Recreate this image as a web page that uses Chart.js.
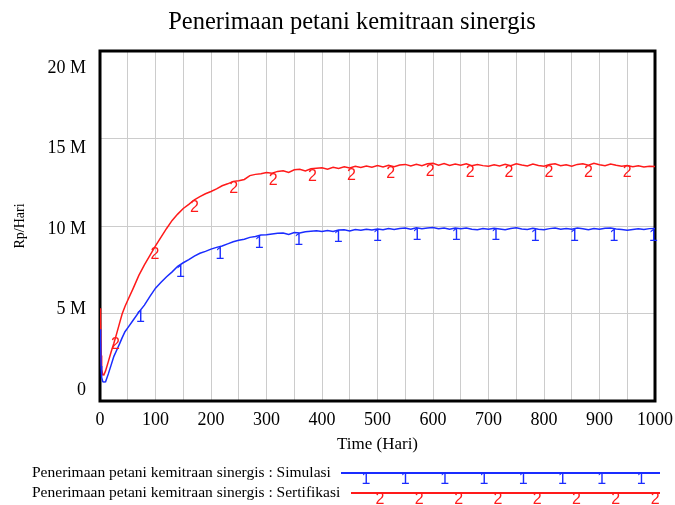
<!DOCTYPE html>
<html>
<head>
<meta charset="utf-8">
<title>Penerimaan petani kemitraan sinergis</title>
<script src="https://cdn.jsdelivr.net/npm/chart.js@4"></script>
<style>
  html, body { margin: 0; padding: 0; background: #fff; }
  canvas { display: block; }
</style>
</head>
<body>
<canvas id="chart" width="675" height="505"></canvas>
<script>
// ---------------------------------------------------------------
// DATA (Rp/Hari, in millions)
// ---------------------------------------------------------------
const days = [0, 1, 2, 3, 5, 7, 10, 15, 20, 25, 30, 35, 40, 45, 50,
  60, 70, 80, 90, 100, 110, 120, 130, 140, 150, 160, 170, 180, 190, 200,
  210, 220, 230, 240, 250, 260, 270, 280, 290, 300, 310, 320, 330, 340, 350,
  360, 370, 380, 390, 400, 410, 420, 430, 440, 450, 460, 470, 480, 490, 500,
  510, 520, 530, 540, 550, 560, 570, 580, 590, 600, 610, 620, 630, 640, 650,
  660, 670, 680, 690, 700, 710, 720, 730, 740, 750, 760, 770, 780, 790, 800,
  810, 820, 830, 840, 850, 860, 870, 880, 890, 900, 910, 920, 930, 940, 950,
  960, 970, 980, 990, 1000];

const simulasi = [4.10, 3.60, 2.00, 1.35, 1.10, 1.08, 1.10, 1.55, 2.05, 2.55, 2.90, 3.25, 3.62, 3.96, 4.18,
  4.63, 5.08, 5.48, 5.98, 6.45, 6.78, 7.10, 7.38, 7.70, 7.90, 8.08, 8.28, 8.44, 8.55, 8.68,
  8.78, 8.86, 8.98, 9.10, 9.18, 9.24, 9.35, 9.40, 9.48, 9.50, 9.54, 9.58, 9.60, 9.52, 9.63,
  9.60, 9.67, 9.70, 9.73, 9.68, 9.74, 9.69, 9.77, 9.79, 9.72, 9.80, 9.76, 9.82, 9.77, 9.83,
  9.78, 9.85, 9.80, 9.86, 9.89, 9.82, 9.90, 9.84, 9.88, 9.91, 9.85, 9.89, 9.82, 9.88, 9.84,
  9.89, 9.81, 9.79, 9.85, 9.81, 9.87, 9.83, 9.78, 9.86, 9.90, 9.83, 9.80, 9.87, 9.82, 9.79,
  9.85, 9.88, 9.81, 9.86, 9.82, 9.88, 9.84, 9.79, 9.86, 9.82, 9.87, 9.89, 9.83, 9.80, 9.76,
  9.80, 9.84, 9.80, 9.85, 9.86];

const sertifikasi = [5.30, 4.70, 2.60, 1.80, 1.50, 1.49, 1.72, 2.25, 2.80, 3.30, 3.85, 4.42, 4.98, 5.40, 5.76,
  6.45, 7.18, 7.78, 8.32, 8.86, 9.37, 9.86, 10.32, 10.68, 11.00, 11.24, 11.50, 11.68, 11.84, 11.97,
  12.12, 12.30, 12.41, 12.55, 12.58, 12.66, 12.88, 12.95, 12.98, 13.05, 13.02, 13.12, 13.16, 13.06, 13.21,
  13.24, 13.15, 13.27, 13.30, 13.33, 13.25, 13.36, 13.29, 13.39, 13.31, 13.41, 13.34, 13.43, 13.36, 13.45,
  13.37, 13.47, 13.39, 13.49, 13.52, 13.43, 13.53, 13.45, 13.56, 13.58, 13.48, 13.57, 13.46, 13.54, 13.47,
  13.56, 13.44, 13.52, 13.45, 13.42, 13.50, 13.43, 13.53, 13.44, 13.55, 13.48, 13.43, 13.54, 13.46, 13.41,
  13.51, 13.55, 13.44, 13.50, 13.42, 13.52, 13.56, 13.47, 13.58, 13.50, 13.45, 13.54, 13.47, 13.42, 13.46,
  13.38, 13.44, 13.37, 13.42, 13.40];

// days where the series number is stamped on the curve
const simulasiMarks = [73, 145, 216, 287, 358, 429, 500, 571, 642, 713, 784, 855, 926, 997];
const sertifikasiMarks = [28, 99, 170, 241, 312, 383, 453, 524, 595, 667, 737, 809, 880, 950];

const yTicks = [0, 5, 10, 15, 20];
const xTicks = [0, 100, 200, 300, 400, 500, 600, 700, 800, 900, 1000];

const SERIF = '"Liberation Serif", "Times New Roman", serif';
const SANS = '"Liberation Sans", Arial, sans-serif';
const BLUE = '#1a2cff';
const RED = '#ff1a1a';

// linear lookup of a series at an arbitrary day
function valueAt(values, day) {
  for (let i = 1; i < days.length; i++) {
    if (day <= days[i]) {
      const f = (day - days[i - 1]) / (days[i] - days[i - 1]);
      return values[i - 1] + f * (values[i] - values[i - 1]);
    }
  }
  return values[values.length - 1];
}

const toPoints = values => days.map((d, i) => ({ x: d, y: values[i] }));

// -------------------------------------------------------------
// PLUGINS
// -------------------------------------------------------------

// y labels sit slightly inside the frame, spread a little tighter than the grid
const yLabels = {
  id: "yLabels",
  afterDraw(chart) {
    const { ctx, chartArea, scales: { y } } = chart;
    ctx.save();
    ctx.font = `18px ${SERIF}`;
    ctx.fillStyle = "#000";
    ctx.textAlign = "right";
    ctx.textBaseline = "middle";
    yTicks.forEach(v => {
      const p = y.getPixelForValue(v);
      const ly = chartArea.top + 17 + (p - chartArea.top) * 0.92;
      ctx.fillText(v === 0 ? "0" : `${v} M`, 86, ly);
    });
    ctx.restore();
  }
};

// heavy black frame round the plot (curves are drawn over it)
const frame = {
  id: "frame",
  beforeDatasetsDraw(chart) {
    const { ctx, chartArea: a } = chart;
    ctx.save();
    ctx.strokeStyle = "#000";
    ctx.lineWidth = 3;
    ctx.strokeRect(a.left, a.top, a.right - a.left, a.bottom - a.top);
    ctx.restore();
  }
};

// series numbers on the curves
const curveMarks = {
  id: "curveMarks",
  afterDatasetsDraw(chart) {
    const { ctx, scales: { x, y } } = chart;
    ctx.save();
    ctx.font = `16px ${SANS}`;
    ctx.textAlign = "center";
    ctx.textBaseline = "alphabetic";
    chart.data.datasets.forEach(ds => {
      ctx.fillStyle = ds.borderColor;
      ds.marks.forEach(d => {
        const px = x.getPixelForValue(d);
        const py = y.getPixelForValue(valueAt(ds.values, d));
        ctx.fillText(ds.tag, px, py + 12);
      });
    });
    ctx.restore();
  }
};

// legend block under the axis title
const bottomLegend = {
  id: "bottomLegend",
  afterDraw(chart) {
    const { ctx } = chart;
    const rows = [
      { y: 473, lineFrom: 341, first: 366 },
      { y: 493, lineFrom: 351, first: 380 }
    ];
    ctx.save();
    chart.data.datasets.forEach((ds, i) => {
      const r = rows[i];
      ctx.font = `15.5px ${SERIF}`;
      ctx.fillStyle = "#000";
      ctx.textAlign = "left";
      ctx.textBaseline = "middle";
      ctx.fillText(ds.label, 32, r.y);

      ctx.strokeStyle = ds.borderColor;
      ctx.lineWidth = 2;
      ctx.beginPath();
      ctx.moveTo(r.lineFrom, r.y);
      ctx.lineTo(660, r.y);
      ctx.stroke();

      ctx.font = `16px ${SANS}`;
      ctx.fillStyle = ds.borderColor;
      ctx.textAlign = "center";
      ctx.textBaseline = "alphabetic";
      for (let k = 0; k < 8; k++) {
        ctx.fillText(ds.tag, r.first + k * 39.3, r.y + 11);
      }
    });
    ctx.restore();
  }
};

// -------------------------------------------------------------
// CHART
// -------------------------------------------------------------
new Chart(document.getElementById("chart"), {
  type: "line",
  data: {
    datasets: [
      {
        label: "Penerimaan petani kemitraan sinergis : Simulasi",
        data: toPoints(simulasi),
        values: simulasi,
        marks: simulasiMarks,
        tag: "1",
        borderColor: BLUE,
        borderWidth: 1.5,
        pointRadius: 0,
        tension: 0
      },
      {
        label: "Penerimaan petani kemitraan sinergis : Sertifikasi",
        data: toPoints(sertifikasi),
        values: sertifikasi,
        marks: sertifikasiMarks,
        tag: "2",
        borderColor: RED,
        borderWidth: 1.5,
        pointRadius: 0,
        tension: 0
      }
    ]
  },
  options: {
    responsive: false,
    animation: false,
    devicePixelRatio: 1,
    layout: { padding: { top: 0, left: 49, right: 20, bottom: 44 } },
    plugins: {
      legend: { display: false },
      tooltip: { enabled: false },
      title: {
        display: true,
        text: "Penerimaan petani kemitraan sinergis",
        color: "#000",
        font: { family: SERIF, size: 24.5, weight: "normal" },
        padding: { top: 8, bottom: 13.6 }
      }
    },
    scales: {
      x: {
        type: "linear",
        min: 0,
        max: 1000,
        afterFit(scale) {
          scale.height = 60;
          scale.paddingLeft = 0;
          scale.paddingRight = 0;
        },
        grid: { color: "#cccccc", lineWidth: 1, drawTicks: false },
        border: { display: false },
        ticks: {
          stepSize: 50,
          autoSkip: false,
          maxRotation: 0,
          padding: 8,
          color: "#000",
          font: { family: SERIF, size: 18 },
          callback: v => (xTicks.includes(v) ? String(v) : "")
        },
        title: {
          display: true,
          text: "Time (Hari)",
          color: "#000",
          font: { family: SERIF, size: 17 },
          padding: { top: 0, bottom: 6 }
        }
      },
      y: {
        min: 0,
        max: 20,
        afterFit(scale) {
          scale.width = 51;
          scale.paddingTop = 0;
          scale.paddingBottom = 0;
        },
        grid: { color: "#cccccc", lineWidth: 1, drawTicks: false },
        border: { display: false },
        ticks: { display: false, stepSize: 5 },
        title: {
          display: true,
          text: "Rp/Hari",
          color: "#000",
          font: { family: SERIF, size: 14 },
          padding: { top: -37, bottom: 0 }
        }
      }
    }
  },
  plugins: [frame, curveMarks, yLabels, bottomLegend]
});
</script>
</body>
</html>
